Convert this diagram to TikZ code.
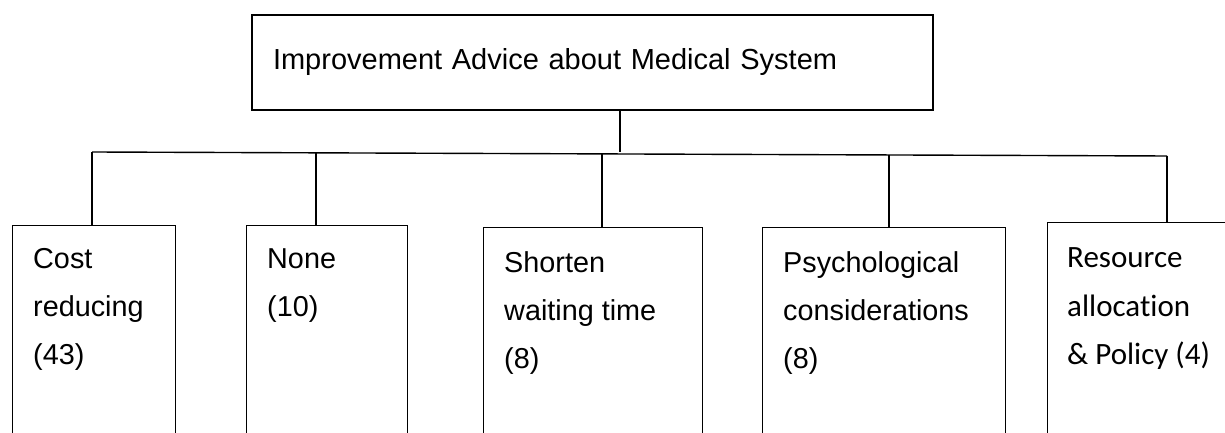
\documentclass[tikz,border=0pt]{standalone}
\usepackage{fontspec}
\setmainfont{Liberation Sans}
\newfontfamily\calibri[Ligatures=NoCommon]{Carlito}
\begin{document}
\begin{tikzpicture}[x=1pt,y=1pt]
\tikzstyle{head}=[draw,line width=1.6pt,minimum width=681pt,minimum height=95pt,inner xsep=21pt,inner ysep=0pt,text width=639pt,align=left,font=\fontsize{29}{35}\selectfont]
\tikzstyle{leaf}=[draw,line width=1.4pt,anchor=north west,minimum height=250pt,inner sep=0pt]
\tikzstyle{leaftext}=[anchor=base west,inner sep=0pt,align=left,font=\fontsize{28.8}{48}\selectfont]
\tikzstyle{link}=[line width=1.4pt]
\clip (0,0) rectangle (1225,433);
\node [head] (top) at (592.5,370.5) {Improvement Advice about Medical System};
\node [leaf,minimum width=163pt] (cost) at (12,208) {};
\node [leaf,minimum width=161pt] (none) at (246,208) {};
\node [leaf,minimum width=219pt] (wait) at (483,206) {};
\node [leaf,minimum width=243pt] (psych) at (762,206) {};
\node [leaf,minimum width=200pt] (policy) at (1047,211) {};
% base anchor sits on the last line
\node [leaftext] (costtext) at (33,68) {Cost\\reducing\\(43)};
\node [leaftext] (nonetext) at (267,116) {None\\(10)};
\node [leaftext] (waittext) at (504,64) {Shorten\\waiting time\\(8)};
\node [leaftext] (psychtext) at (783,64) {Psychological\\considerations\\(8)};
\node [leaftext,font=\calibri\fontsize{31}{48.5}\selectfont] (policytext) at (1067,68) {Resource\\allocation\\\& Policy (4)};
\coordinate (hub) at (620,281);
\coordinate (b1) at (92,281);
\coordinate (b2) at (316,280.2);
\coordinate (b3) at (602,279.1);
\coordinate (b4) at (889,278);
\coordinate (b5) at (1167,277);
\draw [link] (top.south -| hub) -- (hub);
\draw [link] (b1) -- (b5);
\draw [link] (b1) -- (b1 |- cost.north);
\draw [link] (b2) -- (b2 |- none.north);
\draw [link] (b3) -- (b3 |- wait.north);
\draw [link] (b4) -- (b4 |- psych.north);
\draw [link] (b5) -- (b5 |- policy.north);
\end{tikzpicture}
\end{document}
